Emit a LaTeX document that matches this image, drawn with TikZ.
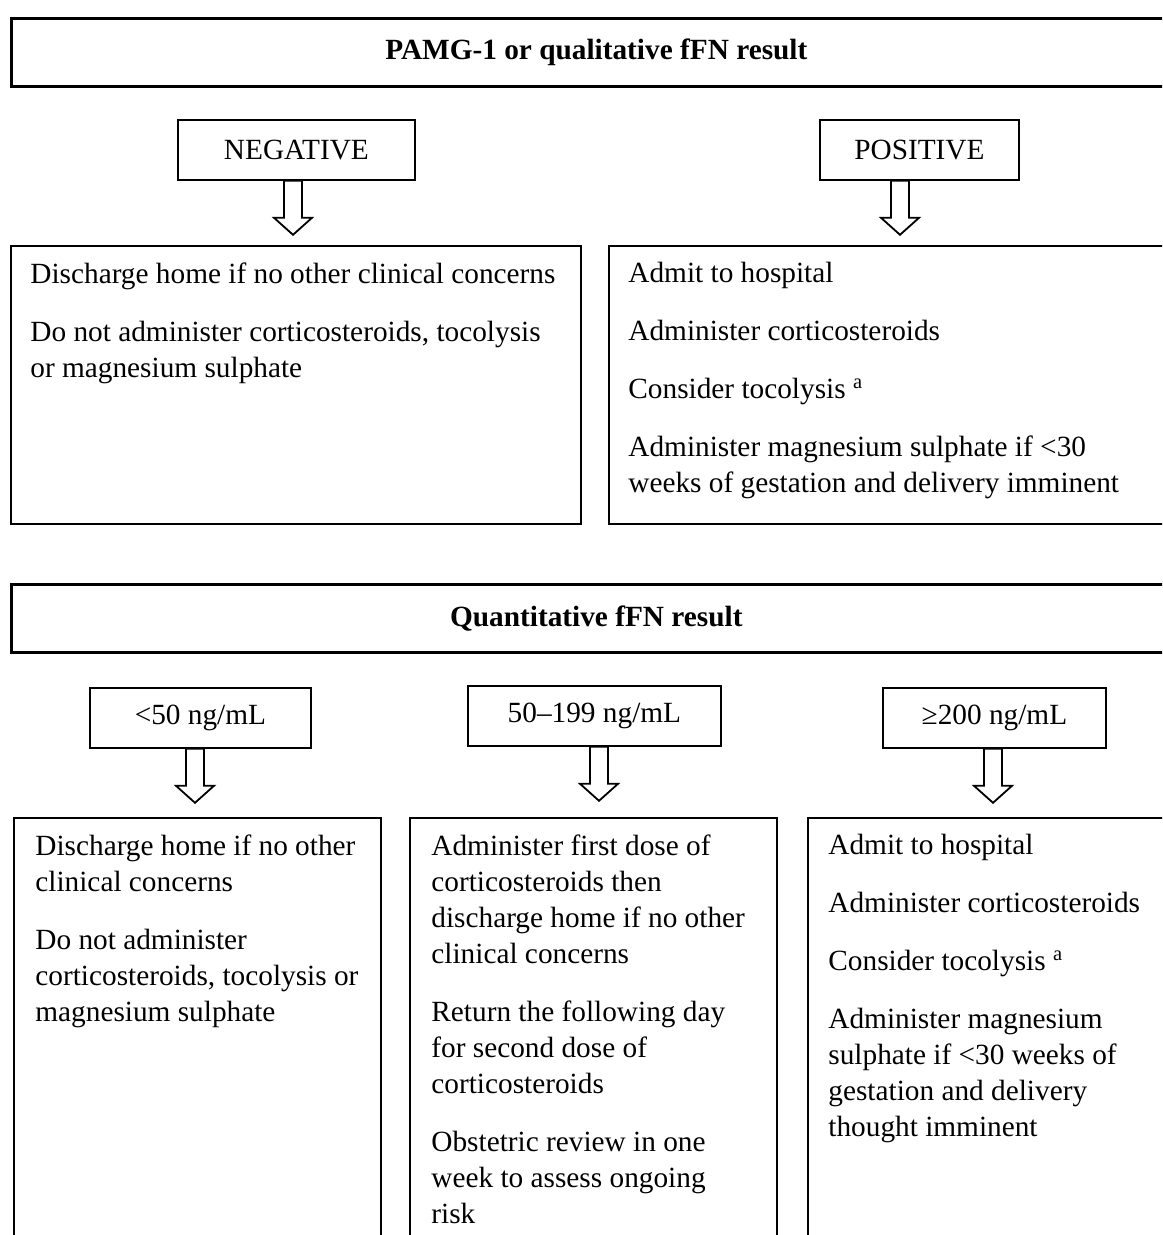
\documentclass[tikz,border=0pt]{standalone}
\usepackage{fontspec}
\setmainfont{Liberation Serif}
\usetikzlibrary{positioning}
\newcommand{\bodysize}{\fontsize{14.65}{18}\selectfont}
\tikzset{
    header/.style={
        rectangle, draw=black, line width=1.3pt,
        minimum width=585pt, minimum height=34pt,
        anchor=north west, font=\bodysize\bfseries
    },
    choice/.style={
        rectangle, draw=black, line width=0.9pt,
        minimum height=30pt, anchor=north west, font=\bodysize
    },
    result/.style={
        rectangle, draw=black, line width=0.9pt,
        anchor=north west
    },
    body/.style={inner sep=0pt, align=left, font=\bodysize},
    hollow/.style={draw=black, line width=0.9pt, fill=white}
}

\begin{document}
\begin{tikzpicture}[x=0.5pt, y=-0.5pt]
\useasboundingbox (0,0) rectangle (1162,1235);
\clip (0,0) rectangle (1162,1235);

% Upper part: PAMG-1 / qualitative fFN
\node[header] (qualhead) at (10,17) {PAMG-1 or qualitative fFN result};
\node[choice, minimum width=118.5pt] (neg) at (177,119) {NEGATIVE};
\node[choice, minimum width=99.5pt] (pos) at (819,119) {POSITIVE};
\node[result, minimum width=285pt, minimum height=139pt] (negres) at (10,245) {};
\node[result, minimum width=286pt, minimum height=139pt] (posres) at (608,245) {};

\node[body, below right=8.5pt and 10pt of negres.north west] (negtext)
    {Discharge home if no other clinical concerns\\[11pt]
     Do not administer corticosteroids, tocolysis\\
     or magnesium sulphate};
\node[body, below right=8.5pt and 10pt of posres.north west] (postext)
    {Admit to hospital\\[11pt]
     Administer corticosteroids\\[11pt]
     Consider tocolysis \textsuperscript{a}\\[11pt]
     Administer magnesium sulphate if <30\\
     weeks of gestation and delivery imminent};

% Lower part: quantitative fFN
\node[header] (quanthead) at (10,583) {Quantitative fFN result};
\node[choice, minimum width=110.5pt] (low) at (89,687) {<50 ng/mL};
\node[choice, minimum width=126.5pt] (mid) at (467,685) {50–199 ng/mL};
\node[choice, minimum width=111.5pt] (high) at (882,687) {≥200 ng/mL};
\node[result, minimum width=183.5pt, minimum height=230pt] (lowres) at (13,817) {};
\node[result, minimum width=183.5pt, minimum height=230pt] (midres) at (409,817) {};
\node[result, minimum width=190pt, minimum height=230pt] (highres) at (807,817) {};

\node[body, below right=8.5pt and 11pt of lowres.north west] (lowtext)
    {Discharge home if no other\\
     clinical concerns\\[11pt]
     Do not administer\\
     corticosteroids, tocolysis or\\
     magnesium sulphate};
\node[body, below right=8.5pt and 11pt of midres.north west] (midtext)
    {Administer first dose of\\
     corticosteroids then\\
     discharge home if no other\\
     clinical concerns\\[11pt]
     Return the following day\\
     for second dose of\\
     corticosteroids\\[11pt]
     Obstetric review in one\\
     week to assess ongoing\\
     risk};
\node[body, below right=8.5pt and 10.5pt of highres.north west] (hightext)
    {Admit to hospital\\[11pt]
     Administer corticosteroids\\[11pt]
     Consider tocolysis \textsuperscript{a}\\[11pt]
     Administer magnesium\\
     sulphate if <30 weeks of\\
     gestation and delivery\\
     thought imminent};

% Hollow arrows
\foreach \b/\ax in {neg/293, pos/900, low/195, mid/599, high/993}
    \draw[hollow] (\ax,0 |- \b.south) ++(-9,0) -- ++(18,0) -- ++(0,37) -- ++(10,0)
        -- ++(-19,17) -- ++(-19,-17) -- ++(10,0) -- cycle;

\end{tikzpicture}
\end{document}
